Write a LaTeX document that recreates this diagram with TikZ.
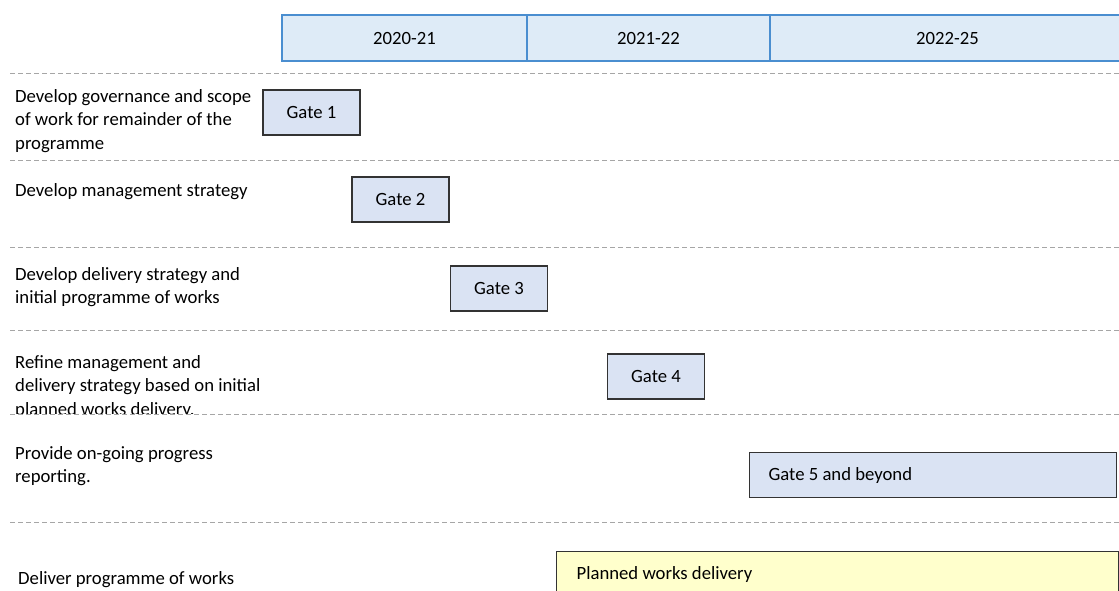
\documentclass[tikz,border=0pt]{standalone}
\usepackage{fontspec}
\setmainfont{Carlito}
\definecolor{yearfill}{HTML}{DEEBF7}
\definecolor{yearline}{HTML}{4A8ED0}
\definecolor{gatefill}{HTML}{DAE3F3}
\definecolor{workfill}{HTML}{FFFFCC}
\definecolor{rulegray}{HTML}{A6A6A6}
\tikzset{
	year/.style={draw=yearline, fill=yearfill, line width=1.2pt, minimum height=46pt, inner sep=0pt},
	gate/.style={draw=black!80, fill=gatefill, line width=1.2pt, minimum width=97pt, minimum height=45pt, inner sep=0pt},
	workbox/.style={draw=black!80, fill=workfill, line width=1.2pt, minimum height=46pt, inner sep=0pt},
	task/.style={anchor=north west, align=left, inner sep=0pt},
	rowline/.style={rulegray, line width=1pt, dash pattern=on 5pt off 3pt}
}
\begin{document}
\begin{tikzpicture}[x=1pt, y=-1pt, font=\fontsize{18.7}{23.5}\selectfont]
		\useasboundingbox (0,0) rectangle (1119,590);
		% years
		\node[year, minimum width=245pt] (y1) at (404.5,38) {2020-21};
		\node[year, minimum width=243pt] (y2) at (648.5,38) {2021-22};
		\node[year, minimum width=355pt] (y3) at (947.5,38) {2022-25};
		% row separators
		\foreach \y in {73,160,247,330,414,522}
			\draw[rowline] (10,\y) -- (1119,\y);
		% tasks
		\node[task] (t1) at (15,89) {Develop governance and scope\\of work for remainder of the\\programme};
		\node[task] (t2) at (15,183) {Develop management strategy};
		\node[task] (t3) at (15,267) {Develop delivery strategy and\\initial programme of works};
		\begin{scope}
		\clip (0,331) rectangle (600,413);
		\node[task] (t4) at (15,355) {Refine management and\\delivery strategy based on initial\\planned works delivery.};
		\end{scope}
		\node[task] (t5) at (15,446) {Provide on-going progress\\reporting.};
		\node[task] (t6) at (18,571) {Deliver programme of works};
		% gates
		\node[gate] (g1) at (311.5,112.5) {Gate 1};
		\node[gate] (g2) at (400.5,199.5) {Gate 2};
		\node[gate] (g3) at (499,288.5) {Gate 3};
		\node[gate] (g4) at (656,376.5) {Gate 4};
		\node[gate, anchor=north west, minimum width=367pt, inner xsep=19pt] (g5) at (749,452) {\makebox[329pt][l]{Gate 5 and beyond}};
		\node[workbox, anchor=north west, inner xsep=20pt] (pw) at (556,551) {\makebox[522pt][l]{Planned works delivery}};
\end{tikzpicture}
\end{document}
